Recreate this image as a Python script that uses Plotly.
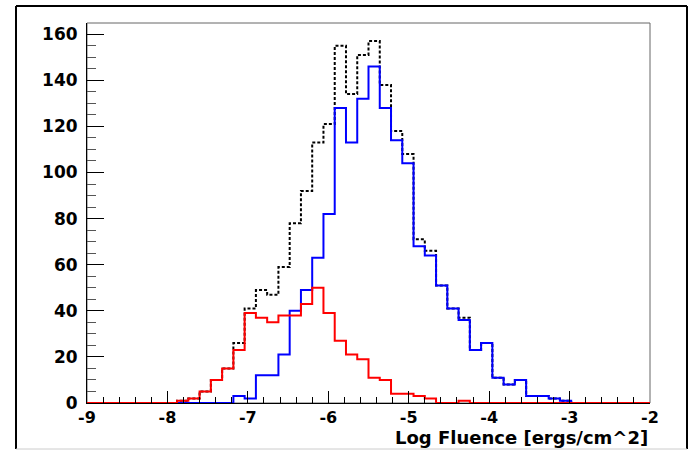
import numpy as np
import plotly.graph_objects as go

# Histogram definition (50 bins from -9 to -2)
bin_lo, bin_hi, n_bins = -9.0, -2.0, 50

# Counts per bin
total_counts = [0, 0, 0, 0, 0, 0, 0, 0, 1, 2,
                5, 10, 15, 26, 41, 49, 47, 59, 78, 92,
                113, 121, 155, 134, 151, 157, 138, 118, 108, 71,
                66, 51, 41, 37, 23, 26, 11, 8, 10, 3,
                3, 2, 1, 0, 0, 0, 0, 0, 0, 0]
blue_counts = [0, 0, 0, 0, 0, 0, 0, 0, 0, 0,
               0, 0, 0, 3, 2, 12, 12, 21, 40, 49,
               63, 82, 128, 113, 132, 146, 128, 114, 104, 68,
               64, 51, 41, 36, 23, 26, 11, 8, 10, 3,
               3, 2, 1, 0, 0, 0, 0, 0, 0, 0]
red_counts = [0, 0, 0, 0, 0, 0, 0, 0, 1, 2,
              5, 10, 15, 23, 39, 37, 35, 38, 38, 43,
              50, 39, 27, 21, 19, 11, 10, 4, 4, 3,
              2, 0, 0, 1, 0, 0, 0, 0, 0, 0,
              0, 0, 0, 0, 0, 0, 0, 0, 0, 0]

x_tick_vals = [-9, -8, -7, -6, -5, -4, -3, -2]
x_tick_text = ["-9", "-8", "-7", "-6", "-5", "-4", "-3", "-2"]
y_tick_vals = [0, 20, 40, 60, 80, 100, 120, 140, 160]
y_tick_text = ["0", "20", "40", "60", "80", "100", "120", "140", "160"]
x_title = "Log Fluence [ergs/cm^2]"

edges = np.linspace(bin_lo, bin_hi, n_bins + 1)


def step_trace(counts, color, dash):
    y = list(counts) + [counts[-1]]
    return go.Scatter(x=edges, y=y, mode="lines", line_shape="hv",
                      line=dict(color=color, width=2, dash=dash),
                      hoverinfo="skip", showlegend=False)


fig = go.Figure()
fig.add_trace(step_trace(total_counts, "black", "3px,2px"))
fig.add_trace(step_trace(blue_counts, "#0000ff", "solid"))
fig.add_trace(step_trace(red_counts, "#ff0000", "solid"))

yfont = dict(family="DejaVu Sans", size=17, color="black", weight="bold")
xfont = dict(family="DejaVu Sans", size=16, color="black", weight="bold")

L, R, T, B = 87, 41, 23, 49
W, H = 691, 452
pw, ph = W - L - R, H - T - B


def px(xp):
    return (xp - L) / pw


def py(yp):
    return (H - B - yp) / ph


fig.update_layout(
    width=W, height=H,
    margin=dict(l=L, r=R, t=T, b=B, pad=0),
    paper_bgcolor="white", plot_bgcolor="white",
    xaxis=dict(range=[bin_lo, bin_hi], showgrid=False, zeroline=False,
               tickmode="array", tickvals=x_tick_vals, ticktext=x_tick_text,
               ticks="inside", ticklen=12, tickwidth=1, tickcolor="black",
               minor=dict(dtick=0.2, ticks="inside", ticklen=6, tickwidth=1,
                          tickcolor="black", showgrid=False),
               showline=True, linecolor="black", linewidth=1,
               tickfont=xfont, ticklabelstandoff=0, automargin=False),
    yaxis=dict(range=[0, 164.85], showgrid=False, zeroline=False,
               tickmode="array", tickvals=y_tick_vals, ticktext=y_tick_text,
               ticks="inside", ticklen=17, tickwidth=1, tickcolor="black",
               minor=dict(dtick=5, ticks="inside", ticklen=9, tickwidth=1,
                          tickcolor="#555555", showgrid=False),
               showline=True, linecolor="black", linewidth=1,
               tickfont=yfont, ticklabelstandoff=5, automargin=False),
    annotations=[dict(text=x_title, xref="paper", yref="paper",
                      x=1.0, y=py(437), xanchor="right", yanchor="middle",
                      showarrow=False, font=dict(family="DejaVu Sans", size=18,
                                                 color="black", weight="bold"))],
    shapes=[
        # plot frame
        dict(type="rect", xref="paper", yref="paper", x0=0, x1=1, y0=0, y1=1,
             line=dict(color="#666666", width=1), layer="below"),
        # outer canvas border
        dict(type="line", xref="paper", yref="paper", x0=px(16), x1=px(687),
             y0=py(6), y1=py(6), line=dict(color="black", width=2)),
        dict(type="line", xref="paper", yref="paper", x0=px(16), x1=px(16),
             y0=py(6), y1=py(449), line=dict(color="black", width=2)),
        dict(type="line", xref="paper", yref="paper", x0=px(687), x1=px(687),
             y0=py(6), y1=py(449), line=dict(color="black", width=2)),
        dict(type="line", xref="paper", yref="paper", x0=px(16), x1=px(687),
             y0=py(449), y1=py(449), line=dict(color="#cccccc", width=1)),
    ],
)

fig.write_html("out.html", config={"displayModeBar": False},
               post_script="document.body.style.margin='0';document.body.style.padding='0';")
